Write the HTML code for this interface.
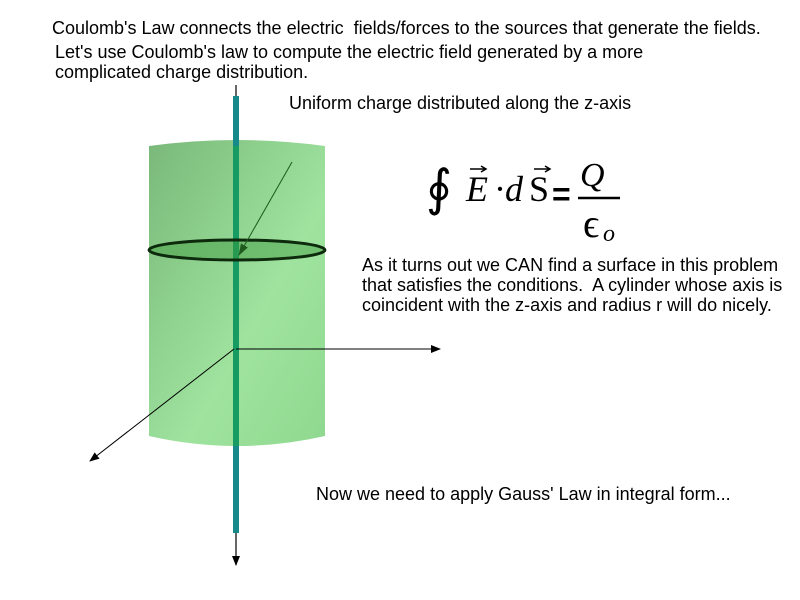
<!DOCTYPE html>
<html><head><style>
body{margin:0;width:800px;height:600px;background:#fff;overflow:hidden;position:relative;font-family:"Liberation Sans",sans-serif;}
.t{position:absolute;font-size:18px;color:#000;white-space:nowrap;line-height:20px;}
</style></head><body>
<svg width="800" height="600" style="position:absolute;left:0;top:0">
<defs>
<linearGradient id="g" x1="0" y1="0" x2="1" y2="1">
<stop offset="0" stop-color="#79b879"/><stop offset="0.6" stop-color="#9fe39f"/><stop offset="1" stop-color="#8fd88f"/>
</linearGradient>
<marker id="a" markerWidth="10" markerHeight="10" refX="9" refY="5" orient="auto" markerUnits="userSpaceOnUse"><path d="M0,1 L10,5 L0,9 z" fill="#000"/></marker>
<marker id="ag" markerWidth="12" markerHeight="10" refX="11" refY="5" orient="auto" markerUnits="userSpaceOnUse"><path d="M0,1 L12,5 L0,9 z" fill="#1e5a1e"/></marker>
</defs>
<path d="M149,146 Q237,134 325,146 L325,436 Q237,456 149,436 Z" fill="url(#g)"/>
<line x1="236" y1="96" x2="236" y2="533" stroke="#16898a" stroke-width="6"/>
<line x1="236" y1="146" x2="236" y2="446" stroke="#17a05a" stroke-width="6" opacity="0.8"/>
<line x1="236" y1="533" x2="236" y2="565" stroke="#000" stroke-width="1.2" marker-end="url(#a)"/>
<line x1="236" y1="85" x2="236" y2="96" stroke="#000" stroke-width="1.2"/>
<ellipse cx="237" cy="250" rx="88" ry="10" fill="#3b9a3b" fill-opacity="0.45" stroke="#0d2a0d" stroke-width="3"/>
<line x1="292" y1="162" x2="239" y2="255" stroke="#1e5a1e" stroke-width="1" marker-end="url(#ag)"/>
<line x1="236" y1="349" x2="440" y2="349" stroke="#000" stroke-width="1" marker-end="url(#a)"/>
<line x1="234" y1="349" x2="90" y2="461" stroke="#000" stroke-width="1" marker-end="url(#a)"/>
<g font-family="Liberation Serif,serif" font-style="italic" font-size="36">
<text x="426" y="205" font-style="normal" font-size="50" font-family="DejaVu Serif,serif">∮</text>
<text x="466" y="201">E</text>
<text x="494" y="201" font-style="normal">·</text>
<text x="505" y="201">d</text>
<text x="529" y="201" font-style="normal">S</text>
<text x="580" y="186" font-size="34">Q</text>
<text x="583" y="237" font-style="normal" font-size="40">ϵ</text>
<text x="603" y="241" font-size="24">o</text>
</g>
<text x="552" y="205" font-family="Liberation Sans" font-weight="bold" font-size="32">=</text>
<line x1="578" y1="198" x2="620" y2="198" stroke="#000" stroke-width="2.5"/>
<path d="M470,169 L485,169 M481,166 L486,169 L481,172" stroke="#000" stroke-width="1.5" fill="none"/>
<path d="M534,169 L549,169 M545,166 L550,169 L545,172" stroke="#000" stroke-width="1.5" fill="none"/>
</svg>
<div class="t" style="left:52px;top:18px">Coulomb's Law connects the electric&nbsp; fields/forces to the sources that generate the fields.</div>
<div class="t" style="left:55px;top:42px">Let's use Coulomb's law to compute the electric field generated by a more</div>
<div class="t" style="left:55px;top:62px">complicated charge distribution.</div>
<div class="t" style="left:289px;top:93px">Uniform charge distributed along the z-axis</div>
<div class="t" style="left:362px;top:255px">As it turns out we CAN find a surface in this problem</div>
<div class="t" style="left:362px;top:275px">that satisfies the conditions.&nbsp; A cylinder whose axis is</div>
<div class="t" style="left:362px;top:295px">coincident with the z-axis and radius r will do nicely.</div>
<div class="t" style="left:316px;top:484px">Now we need to apply Gauss' Law in integral form...</div>
</body></html>
